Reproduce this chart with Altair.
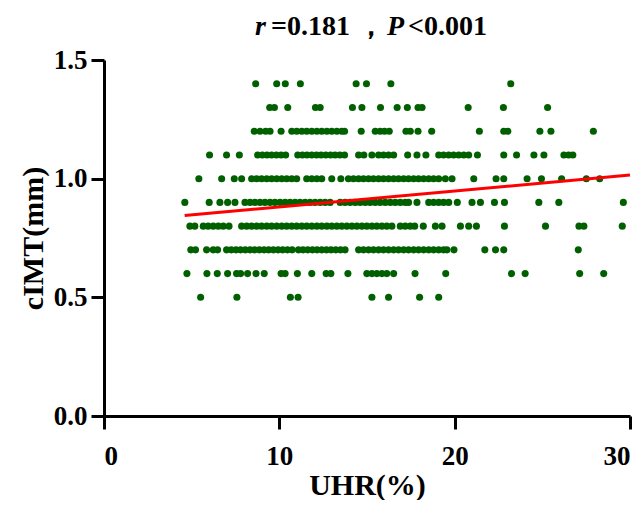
import altair as alt
import pandas as pd

# UHR(%) values of the points, grouped by their cIMT(mm) level
x_14 = [8.65, 9.85, 10.34, 11.2, 14.38, 14.97, 16.36, 23.2]
x_13 = [9.45, 9.72, 10.48, 12.06, 12.33, 14.17, 14.71, 15.77, 16.72, 17.3, 17.91, 18.14, 20.77, 22.78, 25.3]
x_12 = [8.57, 8.9, 9.22, 9.47, 10.1, 10.71, 10.99, 11.28, 11.56, 11.85, 12.14, 12.42, 12.71, 12.99, 13.28,
        13.56, 13.72, 14.67, 15.47, 15.75, 16.0, 16.27, 17.22, 17.47, 17.91, 18.69, 21.41, 22.8, 23.03, 24.86,
        25.49, 27.91]
x_11 = [6.02, 6.99, 7.72, 8.76, 9.03, 9.3, 9.56, 9.83, 10.1, 10.36, 11.05, 11.32, 11.58, 11.85, 12.12, 12.38,
        12.65, 12.92, 13.18, 13.45, 13.72, 14.52, 14.82, 15.28, 15.66, 15.94, 16.23, 16.52, 17.32, 17.85, 18.36,
        19.09, 19.37, 19.66, 19.94, 20.23, 20.52, 20.8, 21.3, 22.8, 23.53, 24.52, 25.09, 26.23, 26.5, 26.74]
x_10 = [5.41, 6.71, 7.43, 7.85, 8.42, 8.71, 8.99, 9.28, 9.56, 9.85, 10.14, 10.42, 10.71, 10.99, 11.56, 11.85,
        12.14, 12.42, 12.99, 13.51, 13.94, 14.23, 14.52, 14.8, 15.09, 15.37, 15.66, 15.94, 16.23, 16.52, 16.8,
        17.09, 17.37, 17.66, 17.94, 18.23, 18.52, 18.8, 19.09, 19.47, 19.85, 21.09, 22.36, 22.8, 24.13, 24.95,
        26.1, 27.51, 28.27]
x_09 = [4.61, 6.0, 6.61, 7.05, 7.47, 8.04, 8.33, 8.61, 8.9, 9.18, 9.47, 9.75, 10.04, 10.33, 10.61, 10.9, 11.18,
        11.47, 11.75, 12.04, 12.33, 12.61, 12.9, 13.47, 13.75, 14.04, 14.33, 14.61, 14.9, 15.18, 15.47, 15.75,
        16.04, 16.33, 16.61, 16.9, 17.18, 17.37, 17.85, 18.52, 18.8, 19.09, 19.37, 19.66, 20.15, 20.99, 21.47,
        22.27, 22.84, 24.8, 25.94, 29.62]
x_08 = [4.9, 5.18, 5.66, 5.94, 6.23, 6.52, 6.8, 7.13, 7.85, 8.14, 8.42, 8.71, 8.99, 9.28, 9.56, 9.85, 10.14,
        10.42, 10.71, 10.99, 11.28, 11.56, 11.85, 12.14, 12.42, 12.71, 12.99, 13.28, 13.56, 13.85, 14.14, 14.42,
        14.71, 14.99, 15.28, 15.56, 15.85, 16.13, 16.42, 16.9, 17.18, 17.47, 17.72, 18.21, 18.9, 19.28, 20.33,
        20.8, 21.24, 22.84, 25.18, 27.09, 27.37, 29.56]
x_07 = [4.95, 5.22, 5.85, 6.23, 6.48, 6.99, 7.26, 7.53, 7.79, 8.06, 8.33, 8.59, 8.86, 9.13, 9.39, 9.66, 9.93,
        10.19, 10.46, 10.73, 11.09, 11.35, 11.62, 11.89, 12.15, 12.42, 12.69, 12.95, 13.22, 13.49, 13.75, 14.52,
        14.8, 15.09, 15.37, 15.66, 15.94, 16.23, 16.52, 16.8, 17.09, 17.37, 17.66, 17.94, 18.23, 18.52, 18.8,
        19.09, 19.37, 19.56, 19.96, 21.72, 22.33, 22.8, 27.05]
x_06 = [4.73, 5.87, 6.46, 7.05, 7.56, 7.79, 8.19, 8.67, 9.14, 10.1, 10.33, 11.03, 11.85, 12.67, 12.94, 13.91,
        14.99, 15.28, 15.56, 15.85, 16.13, 16.52, 17.74, 19.49, 23.24, 24.02, 27.13, 28.5]
x_05 = [5.51, 7.58, 10.63, 11.07, 15.28, 16.23, 18.0, 19.09]

levels = [1.4, 1.3, 1.2, 1.1, 1.0, 0.9, 0.8, 0.7, 0.6, 0.5]
groups = [x_14, x_13, x_12, x_11, x_10, x_09, x_08, x_07, x_06, x_05]

# fitted regression line end points
line_x = [4.6, 30.0]
line_y = [0.845, 1.015]

x_ticks = [0, 10, 20, 30]
y_ticks = [0.0, 0.5, 1.0, 1.5]

title_texts = ["r", "=0.181 ，", "P", "<0.001"]
title_styles = ["italic", "normal", "italic", "normal"]

rows = []
for lv, xs in zip(levels, groups):
    for v in xs:
        rows.append({"UHR": v, "cIMT": lv})
pts = pd.DataFrame(rows)
fit = pd.DataFrame({"UHR": line_x, "cIMT": line_y})

FONT = "Liberation Serif"

xscale = alt.Scale(domain=[0, 30], nice=False, zero=False)
yscale = alt.Scale(domain=[0, 1.5], nice=False, zero=False)

xaxis = alt.Axis(values=x_ticks, title="UHR(%)", grid=False, labelFontSize=27, titleFontSize=30,
                 labelPadding=14, titlePadding=1, tickSize=13)
yaxis = alt.Axis(values=y_ticks, format=".1f", title="cIMT(mm)", grid=False, labelFontSize=27,
                 titleFontSize=30, labelPadding=4, titlePadding=5, tickSize=13)

points = alt.Chart(pts).mark_circle(size=50, color="#006000", opacity=1).encode(
    x=alt.X("UHR:Q", scale=xscale, axis=xaxis),
    y=alt.Y("cIMT:Q", scale=yscale, axis=yaxis),
)

line = alt.Chart(fit).mark_line(color="#ff0000", strokeWidth=3).encode(
    x=alt.X("UHR:Q", scale=xscale),
    y=alt.Y("cIMT:Q", scale=yscale),
)

title_df = pd.DataFrame({"txt": title_texts, "style": title_styles})

def part(i, xpos):
    d = title_df.iloc[[i]]
    return alt.Chart(d).mark_text(
        font=FONT, fontSize=28, fontWeight="bold", fontStyle=d["style"].iloc[0],
        align="left", baseline="alphabetic", color="black",
    ).encode(text="txt:N", x=alt.value(xpos), y=alt.value(-25))

title = part(0, 151) + part(1, 167) + part(2, 283) + part(3, 304)

chart = alt.layer(points, line, title).properties(
    width=526, height=356,
    autosize=alt.AutoSizeParams(type="none"),
    padding={"left": 96, "top": 52, "right": 6, "bottom": 84},
).configure_view(stroke=None).configure_axis(
    domainColor="black", domainWidth=3, tickColor="black", tickWidth=3,
    labelColor="black", titleColor="black", labelFont=FONT, titleFont=FONT,
    labelFontWeight="bold", titleFontWeight="bold",
)

chart.save("out.html", embed_options={"renderer": "svg", "actions": False})
